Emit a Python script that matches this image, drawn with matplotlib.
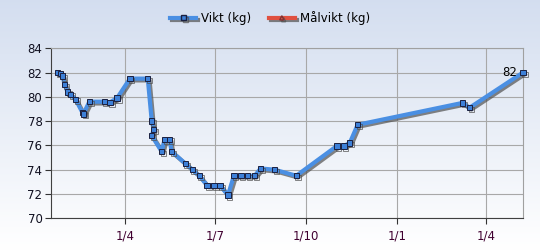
"""Weight chart (Vikt / Målvikt)."""

import datetime as _dt
import numpy as _np
import matplotlib
matplotlib.use('Agg')
import matplotlib.pyplot as plt
import matplotlib.dates as mdates
import matplotlib.patheffects as pe
from matplotlib.ticker import FuncFormatter
from matplotlib.lines import Line2D


DATES = [
    '2010-01-23', '2010-01-26', '2010-01-28', '2010-01-30', '2010-02-02',
    '2010-02-05', '2010-02-10', '2010-02-17', '2010-02-18', '2010-02-24',
    '2010-03-11', '2010-03-17', '2010-03-24', '2010-04-06', '2010-04-24',
    '2010-04-28', '2010-04-30', '2010-04-28', '2010-05-08', '2010-05-11',
    '2010-05-16', '2010-05-18', '2010-06-01', '2010-06-08', '2010-06-15',
    '2010-06-23', '2010-06-30', '2010-07-06', '2010-07-14', '2010-07-20',
    '2010-07-27', '2010-08-03', '2010-08-10', '2010-08-16', '2010-08-30',
    '2010-09-21', '2010-11-01', '2010-11-08', '2010-11-14', '2010-11-22',
    '2011-03-08', '2011-03-15', '2011-05-08',
]
VIKT = [
    82.0, 81.9, 81.7, 81.0, 80.4,
    80.2, 79.8, 78.7, 78.6, 79.6,
    79.6, 79.55, 79.9, 81.5, 81.5,
    78.0, 77.3, 76.8, 75.5, 76.5,
    76.5, 75.5, 74.5, 74.0, 73.5,
    72.7, 72.7, 72.7, 71.9, 73.5,
    73.5, 73.5, 73.5, 74.1, 74.0,
    73.5, 75.95, 75.95, 76.2, 77.7,
    79.5, 79.1, 82.0,
]
SERIES = ['Vikt (kg)', 'Målvikt (kg)']
X_RANGE = ['2010-01-16', '2011-05-08']
Y_TICKS = [70, 72, 74, 76, 78, 80, 82, 84]

BLUE = '#4a8fe3'
RED = '#e05040'

plt.rcParams['font.family'] = ['DejaVu Sans']
plt.rcParams['font.size'] = 8.5

fig = plt.figure(figsize=(5.4, 2.5), dpi=100)

# background gradient
bg = fig.add_axes([0, 0, 1, 1], zorder=-10)
grad = _np.linspace(0, 1, 256).reshape(-1, 1)
top = _np.array([0.83, 0.87, 0.94])
bot = _np.array([1.0, 1.0, 1.0])
img = top[None, None, :] * (1 - grad[:, :, None]) + bot[None, None, :] * grad[:, :, None]
bg.imshow(img, aspect='auto', extent=[0, 1, 0, 1])
bg.axis('off')

ax = fig.add_axes([0.094, 0.127, 0.8745, 0.68])
ax.set_facecolor('none')

dates = [_dt.datetime.strptime(d, '%Y-%m-%d') for d in DATES]
shadow = [pe.SimpleLineShadow(offset=(1.3, -1.3), shadow_color='#505050', alpha=0.7),
          pe.Normal()]
ax.plot(dates, VIKT, color=BLUE, lw=3, marker='s', ms=3.9, mfc='#3d80d8',
        mec='#1a2040', mew=0.7, path_effects=shadow, zorder=3, clip_on=False)

ax.annotate('{:g}'.format(VIKT[-1]), (dates[-1], VIKT[-1]),
            xytext=(-4, 0), textcoords='offset points', ha='right',
            va='center', fontsize=8.5, color='black')

x0, x1 = [_dt.datetime.strptime(d, '%Y-%m-%d') for d in X_RANGE]
ax.set_xlim(x0, x1)
ax.set_ylim(Y_TICKS[0], Y_TICKS[-1])
ax.set_yticks(Y_TICKS)
ax.xaxis.set_major_locator(mdates.MonthLocator(bymonth=[1, 4, 7, 10]))
ax.xaxis.set_major_formatter(FuncFormatter(
    lambda v, pos: '{}/{}'.format(mdates.num2date(v).day,
                                  mdates.num2date(v).month)))
ax.tick_params(axis='y', colors='#333333', labelcolor='#101020',
               length=4, width=0.8, pad=2)
ax.tick_params(axis='x', colors='#333333', labelcolor='#400030',
               length=4, width=0.8, pad=4)
ax.grid(True, color='#a8a8a8', lw=0.8)
ax.set_axisbelow(True)
for side in ('top', 'right'):
    ax.spines[side].set_color('#a0a0a0')
for side in ('left', 'bottom'):
    ax.spines[side].set_color('#404040')

handles = [
    Line2D([], [], color=BLUE, lw=3, marker='s', ms=3.5, mfc='#3d80d8',
           mec='#1a2040', path_effects=shadow),
    Line2D([], [], color=RED, lw=3, marker='^', ms=3, mfc='#e06050',
           mec='#803030', path_effects=shadow),
]
fig.legend(handles, SERIES, loc='center', bbox_to_anchor=(0.5, 0.928),
           ncol=2, frameon=False, fontsize=8.5, handlelength=2.2,
           columnspacing=1.5, handletextpad=0.4)

fig.savefig('out.png', dpi=100)
